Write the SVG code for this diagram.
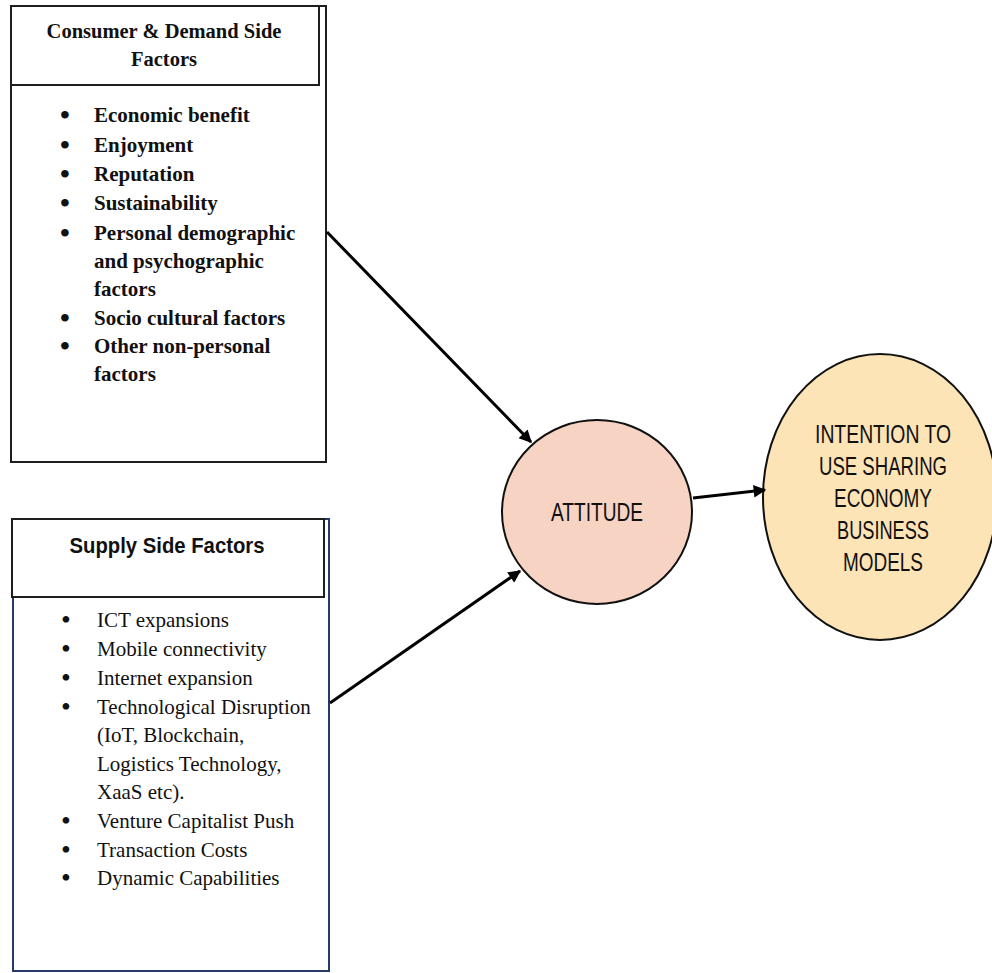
<svg xmlns="http://www.w3.org/2000/svg" width="992" height="973" viewBox="0 0 992 973">
  <style>
    .box { fill: #ffffff; stroke: #1e1e1e; stroke-width: 2; }
    .navy { fill: #ffffff; stroke: #26396b; stroke-width: 2; }
    .hdr { font-family: "Liberation Serif", "Times New Roman", serif; font-weight: bold; font-size: 20.5px; fill: #111; text-anchor: middle; }
    .itemB { font-family: "Liberation Serif", "Times New Roman", serif; font-weight: bold; font-size: 21px; fill: #111; }
    .item { font-family: "Liberation Serif", "Times New Roman", serif; font-size: 21px; fill: #111; }
    .dot { font-size: 28px; }
    .sans { font-family: "Liberation Sans", Arial, sans-serif; fill: #111; text-anchor: middle; }
    .conn { stroke: #000; stroke-width: 3; fill: none; marker-end: url(#arrow); }
  </style>
  <defs>
    <marker id="arrow" viewBox="0 0 10 10" refX="9" refY="5" markerWidth="4.6" markerHeight="4.2" orient="auto" markerUnits="strokeWidth">
      <path d="M0,0 L10,5 L0,10 z" fill="#000"/>
    </marker>
  </defs>
  <rect width="992" height="973" fill="#ffffff"/>

  <!-- Consumer & demand side factors -->
  <g id="consumer-factors">
    <rect class="box" x="11" y="6" width="315" height="456"/>
    <rect class="box" x="11" y="6" width="308" height="79"/>
    <text class="hdr" x="164" y="38">Consumer &amp; Demand Side</text>
    <text class="hdr" x="164" y="66">Factors</text>
    <g class="itemB">
      <text class="dot" x="60" y="124">•</text><text x="94" y="122">Economic benefit</text>
      <text class="dot" x="60" y="154">•</text><text x="94" y="152">Enjoyment</text>
      <text class="dot" x="60" y="183">•</text><text x="94" y="181">Reputation</text>
      <text class="dot" x="60" y="212">•</text><text x="94" y="210">Sustainability</text>
      <text class="dot" x="60" y="242">•</text><text x="94" y="240">Personal demographic</text>
      <text x="94" y="268">and psychographic</text>
      <text x="94" y="296">factors</text>
      <text class="dot" x="60" y="327">•</text><text x="94" y="325">Socio cultural factors</text>
      <text class="dot" x="60" y="355">•</text><text x="94" y="353">Other non-personal</text>
      <text x="94" y="381">factors</text>
    </g>
  </g>

  <!-- Supply side factors -->
  <g id="supply-factors">
    <rect class="navy" x="13" y="519" width="316" height="452"/>
    <rect class="box" x="12" y="519" width="312" height="78"/>
    <text class="sans" x="167" y="553" font-size="22" font-weight="bold" textLength="195" lengthAdjust="spacingAndGlyphs">Supply  Side  Factors</text>
    <g class="item">
      <text class="dot" x="61" y="629">•</text><text x="97" y="627">ICT expansions</text>
      <text class="dot" x="61" y="658">•</text><text x="97" y="656">Mobile connectivity</text>
      <text class="dot" x="61" y="687">•</text><text x="97" y="685">Internet expansion</text>
      <text class="dot" x="61" y="716">•</text><text x="97" y="714">Technological Disruption</text>
      <text x="97" y="742">(IoT, Blockchain,</text>
      <text x="97" y="771">Logistics Technology,</text>
      <text x="97" y="799">XaaS etc).</text>
      <text class="dot" x="61" y="830">•</text><text x="97" y="828">Venture Capitalist Push</text>
      <text class="dot" x="61" y="859">•</text><text x="97" y="857">Transaction Costs</text>
      <text class="dot" x="61" y="887">•</text><text x="97" y="885">Dynamic Capabilities</text>
    </g>
  </g>

  <!-- Attitude -->
  <g id="attitude">
    <ellipse cx="597" cy="512" rx="95" ry="92" fill="#f6d3c3" stroke="#111" stroke-width="2"/>
    <text class="sans" x="597" y="521" font-size="25" textLength="92" lengthAdjust="spacingAndGlyphs">ATTITUDE</text>
  </g>

  <!-- Intention to use -->
  <g id="intention">
    <ellipse cx="880" cy="497" rx="117" ry="143" fill="#fde4b6" stroke="#111" stroke-width="2"/>
    <g class="sans" font-size="25">
      <text x="883" y="443" textLength="136" lengthAdjust="spacingAndGlyphs">INTENTION TO</text>
      <text x="883" y="475" textLength="128" lengthAdjust="spacingAndGlyphs">USE SHARING</text>
      <text x="883" y="507" textLength="98" lengthAdjust="spacingAndGlyphs">ECONOMY</text>
      <text x="883" y="539" textLength="92" lengthAdjust="spacingAndGlyphs">BUSINESS</text>
      <text x="883" y="571" textLength="80" lengthAdjust="spacingAndGlyphs">MODELS</text>
    </g>
  </g>

  <!-- Connectors -->
  <g id="connectors">
    <line class="conn" x1="327" y1="232" x2="531" y2="442"/>
    <line class="conn" x1="330" y1="703" x2="520" y2="571"/>
    <line class="conn" x1="693" y1="498" x2="765" y2="490"/>
  </g>
</svg>
